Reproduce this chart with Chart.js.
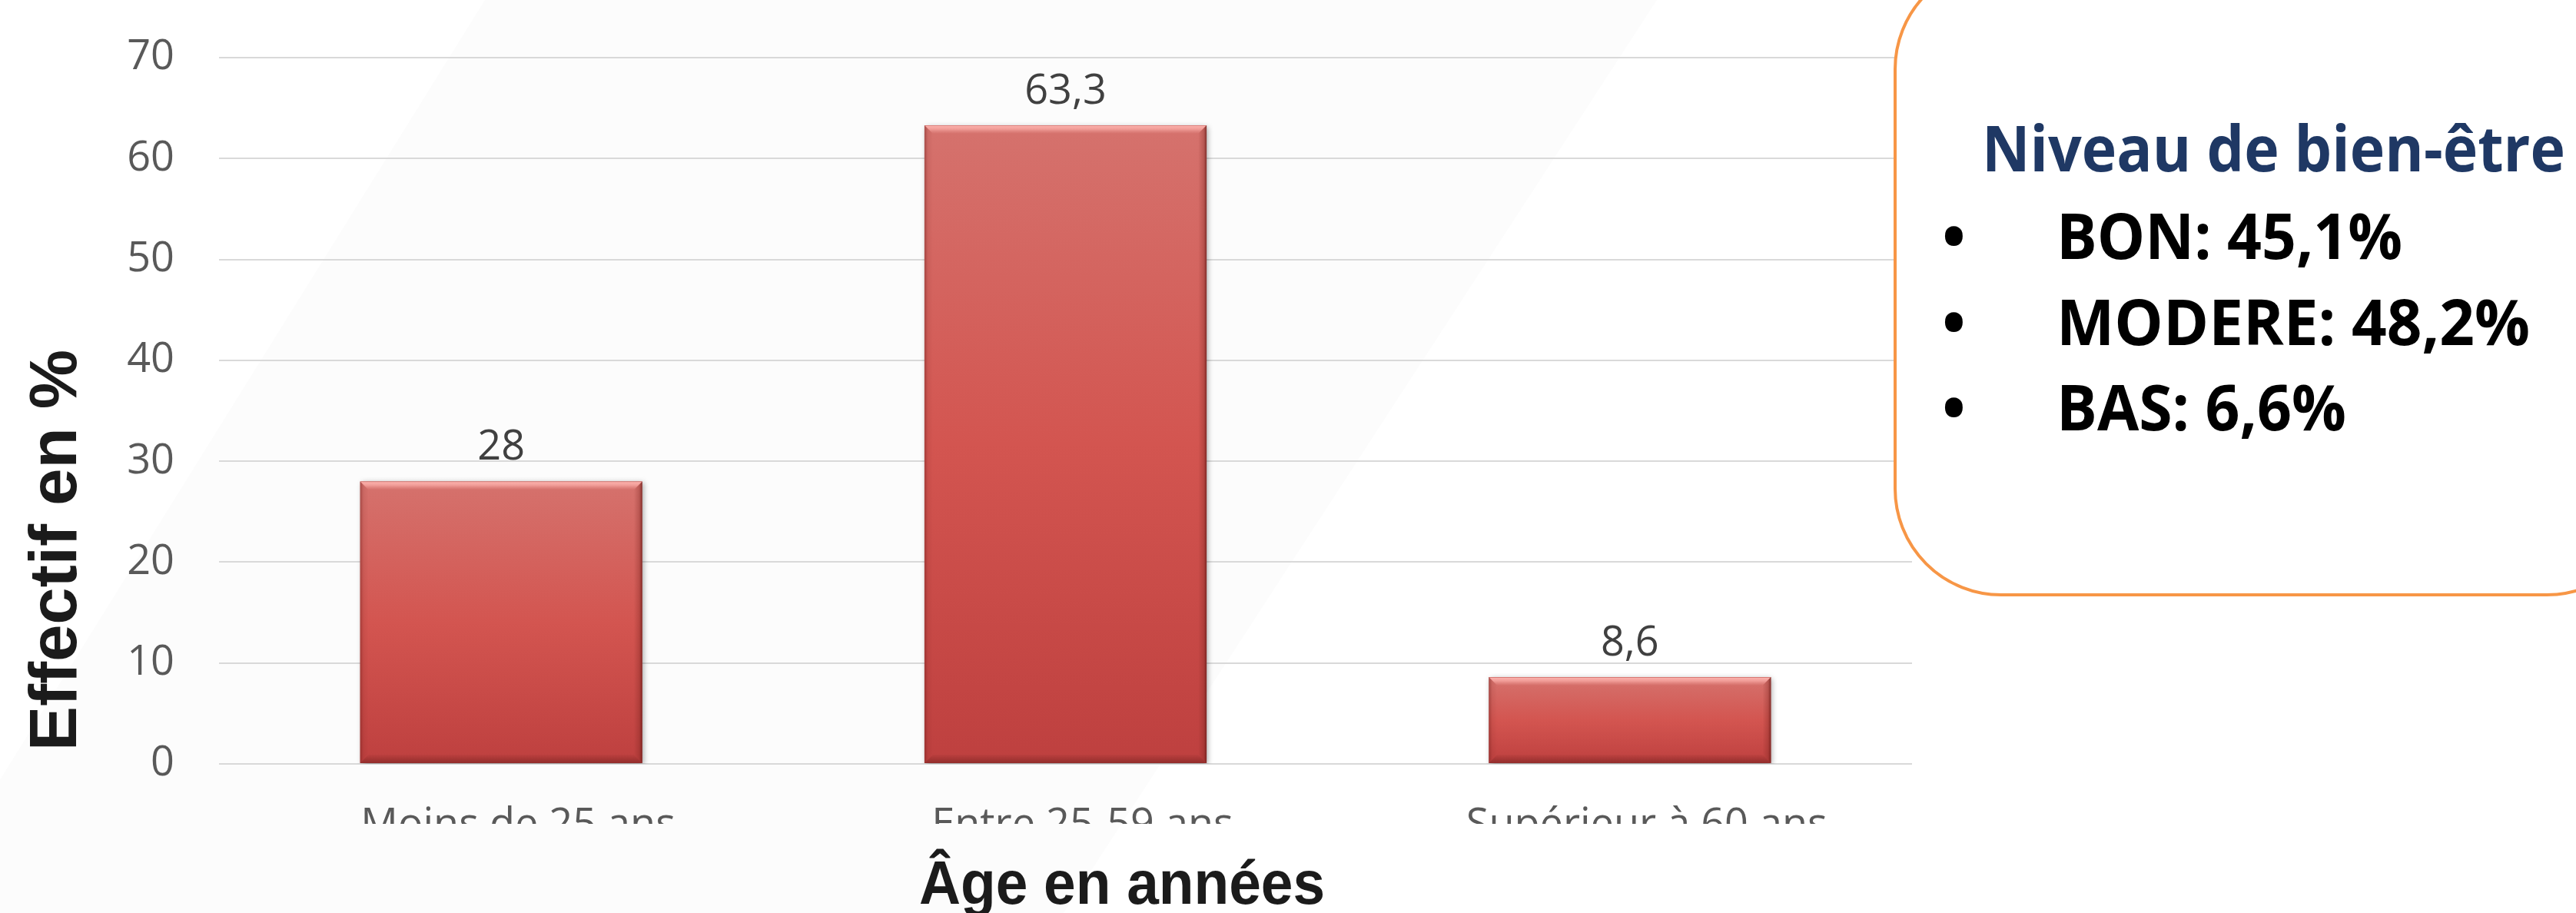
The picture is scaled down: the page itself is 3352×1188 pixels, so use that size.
<!DOCTYPE html>
<html><head><meta charset="utf-8">
<script src="https://cdn.jsdelivr.net/npm/chart.js@4.4.1/dist/chart.umd.min.js"></script>
<style>
html,body{margin:0;padding:0;background:#fff;overflow:hidden;}
#wrap{position:relative;width:3352px;height:1188px;overflow:hidden;}
#c{position:absolute;left:0;top:0;}
#box{position:absolute;left:2464px;top:-50px;width:990px;height:826px;box-sizing:border-box;border:4px solid #F79646;border-radius:140px;background:#fff;}
.bt{position:absolute;font-family:"Open Sans", sans-serif;font-weight:700;white-space:nowrap;line-height:1;font-size:82px;color:#000;transform-origin:0 0;}
.bt.title{color:#1F3864;}
</style></head>
<body>
<div id="wrap"><canvas id="c" width="3352" height="1188"></canvas><div id="box"></div></div>
<script>
// ---- data ----
const categories = ['Moins de 25 ans', 'Entre 25-59 ans', 'Supérieur à 60 ans'];
const values = [28, 63.3, 8.6];
const yMin = 0, yMax = 70, yStep = 10;
const xTitle = 'Âge en années';
const yTitle = 'Effectif en %';
const boxTitle = 'Niveau de bien-être';
const levels = ['BON', 'MODERE', 'BAS'];
const levelPct = [45.1, 48.2, 6.6];

const fmt = v => String(v).replace('.', ',');
const TICK_FONT = '"Open Sans", sans-serif';

// ---- side box (real text) ----
const wrap = document.getElementById('wrap');
const fitList = [];
function addText(txt, left, top, cls, targetW) {
  const d = document.createElement('div');
  d.className = 'bt' + (cls ? ' ' + cls : '');
  d.style.left = left + 'px'; d.style.top = top + 'px';
  d.textContent = txt;
  wrap.appendChild(d);
  if (targetW) fitList.push([d, targetW]);
}
const lineWidths = [450, 616, 377];
addText(boxTitle, 2579, 150, 'title', 759);
levels.forEach((lv, i) => {
  const top = 264 + i * 111.5;
  addText('•', 2527, top);
  addText(lv + ': ' + fmt(levelPct[i]) + '%', 2676, top, '', lineWidths[i]);
});
function fitTexts() {
  fitList.forEach(([d, w]) => {
    d.style.transform = 'none';
    const m = d.getBoundingClientRect().width;
    if (m > 0) d.style.transform = 'scaleX(' + (w / m) + ')';
  });
}
fitTexts();
if (document.fonts && document.fonts.ready) document.fonts.ready.then(fitTexts);

// ---- plugins ----
const bgPlugin = {
  id: 'bg',
  beforeDraw(chart) {
    const ctx = chart.ctx;
    ctx.save();
    ctx.fillStyle = '#ffffff';
    ctx.fillRect(0, 0, chart.width, chart.height);
    ctx.fillStyle = '#FCFCFC';
    ctx.beginPath();
    ctx.moveTo(631, 0); ctx.lineTo(2156, 0); ctx.lineTo(1384, 1188); ctx.lineTo(-108, 1188);
    ctx.closePath(); ctx.fill();
    ctx.restore();
    // clip x tick labels (they are cut in the original)
    const xs = chart.scales.x;
    if (!xs._clipPatched) {
      const orig = xs.drawLabels;
      xs.drawLabels = function (ca) {
        const c = this.ctx;
        c.save();
        c.beginPath();
        c.rect(0, 0, chart.width, chart.chartArea.bottom + 78);
        c.clip();
        orig.call(this, ca);
        c.restore();
      };
      xs._clipPatched = true;
    }
  }
};

function poly(ctx, pts, fill) {
  ctx.beginPath();
  ctx.moveTo(pts[0][0], pts[0][1]);
  for (let i = 1; i < pts.length; i++) ctx.lineTo(pts[i][0], pts[i][1]);
  ctx.closePath();
  ctx.fillStyle = fill;
  ctx.fill();
}

const barFx = {
  id: 'barFx',
  beforeDatasetsDraw(chart) {
    const ctx = chart.ctx;
    ctx.save();
    ctx.shadowColor = 'rgba(0,0,0,0.35)';
    ctx.shadowBlur = 7;
    ctx.shadowOffsetX = 2;
    ctx.shadowOffsetY = 2;
  },
  afterDatasetsDraw(chart) {
    const ctx = chart.ctx;
    ctx.restore();
    const meta = chart.getDatasetMeta(0);
    meta.data.forEach((el, i) => {
      const {x, y, base, width} = el.getProps(['x', 'y', 'base', 'width'], true);
      const l = x - width / 2, r = x + width / 2, t = Math.min(y, base), b = Math.max(y, base);
      const bv = 11;
      ctx.save();
      let g = ctx.createLinearGradient(0, t, 0, t + bv);
      g.addColorStop(0, 'rgba(200,95,90,1)');
      g.addColorStop(0.12, 'rgba(250,175,170,1)');
      g.addColorStop(0.45, 'rgba(246,165,160,0.85)');
      g.addColorStop(1, 'rgba(235,150,145,0)');
      poly(ctx, [[l, t], [r, t], [r - bv, t + bv], [l + bv, t + bv]], g);
      g = ctx.createLinearGradient(r, 0, r - bv, 0);
      g.addColorStop(0, 'rgba(100,25,22,0.75)');
      g.addColorStop(0.35, 'rgba(120,35,30,0.3)');
      g.addColorStop(1, 'rgba(120,35,30,0)');
      poly(ctx, [[r, t], [r, b], [r - bv, b - bv], [r - bv, t + bv]], g);
      g = ctx.createLinearGradient(0, b, 0, b - bv);
      g.addColorStop(0, 'rgba(110,30,28,0.55)');
      g.addColorStop(1, 'rgba(110,30,28,0.05)');
      poly(ctx, [[l, b], [r, b], [r - bv, b - bv], [l + bv, b - bv]], g);
      g = ctx.createLinearGradient(l, 0, l + bv, 0);
      g.addColorStop(0, 'rgba(110,30,28,0.45)');
      g.addColorStop(0.4, 'rgba(110,30,28,0.1)');
      g.addColorStop(1, 'rgba(110,30,28,0)');
      poly(ctx, [[l, t], [l, b], [l + bv, b - bv], [l + bv, t + bv]], g);
      ctx.restore();
      // value label
      ctx.save();
      ctx.font = '54px ' + TICK_FONT;
      ctx.fillStyle = '#404040';
      ctx.textAlign = 'center';
      ctx.textBaseline = 'alphabetic';
      ctx.fillText(fmt(values[i]), x, t - 28);
      ctx.restore();
    });
  },
  afterDraw(chart) {
    const ctx = chart.ctx;
    const ca = chart.chartArea;
    ctx.save();
    ctx.fillStyle = '#1B1B1B';
    ctx.font = 'bold 87px "Liberation Sans", Arial, sans-serif';
    ctx.textAlign = 'left';
    ctx.textBaseline = 'alphabetic';
    ctx.translate(ca.left - 186, ca.bottom - 17);
    ctx.rotate(-Math.PI / 2);
    ctx.fillText(yTitle, 0, 0);
    ctx.restore();
    ctx.save();
    ctx.fillStyle = '#1B1B1B';
    ctx.font = 'bold 80px "Liberation Sans", Arial, sans-serif';
    ctx.textAlign = 'left';
    ctx.textBaseline = 'alphabetic';
    const w = ctx.measureText(xTitle).width;
    ctx.translate(1196, ca.bottom + 182);
    ctx.scale(528 / w, 1);
    ctx.fillText(xTitle, 0, 0);
    ctx.restore();
  }
};

function barGradient(context) {
  const chart = context.chart;
  const ys = chart.scales.y;
  if (!ys || context.raw === undefined) return '#D35550';
  const top = ys.getPixelForValue(context.raw);
  const bottom = ys.getPixelForValue(0);
  if (!isFinite(top) || !isFinite(bottom) || top === bottom) return '#D35550';
  const g = chart.ctx.createLinearGradient(0, top, 0, bottom);
  g.addColorStop(0, '#D5726D');
  g.addColorStop(0.5, '#D35550');
  g.addColorStop(1, '#BE403F');
  return g;
}

new Chart(document.getElementById('c'), {
  type: 'bar',
  data: {
    labels: categories,
    datasets: [{
      data: values,
      backgroundColor: barGradient,
      borderWidth: 0,
      barPercentage: 0.5,
      categoryPercentage: 1.0
    }]
  },
  options: {
    responsive: false,
    animation: false,
    devicePixelRatio: 1,
    layout: { padding: { left: 0, top: 75, right: 864, bottom: 0 } },
    plugins: { legend: { display: false }, tooltip: { enabled: false } },
    scales: {
      x: {
        grid: { display: false, drawTicks: false },
        border: { display: false },
        ticks: {
          font: { family: TICK_FONT, size: 54 },
          color: '#595959',
          padding: 48,
          labelOffset: 22,
          maxRotation: 0,
          minRotation: 0,
          autoSkip: false
        },
        afterFit(scale) { scale.height = 194; scale.paddingLeft = 0; scale.paddingRight = 0; }
      },
      y: {
        min: yMin,
        max: yMax,
        grid: { color: '#D9D9D9', lineWidth: 2, drawTicks: false },
        border: { display: false },
        ticks: {
          stepSize: yStep,
          font: { family: TICK_FONT, size: 54 },
          color: '#595959',
          padding: 58
        },
        afterFit(scale) { scale.width = 285; scale.paddingTop = 0; scale.paddingBottom = 0; }
      }
    }
  },
  plugins: [bgPlugin, barFx]
});
</script>
</body></html>
